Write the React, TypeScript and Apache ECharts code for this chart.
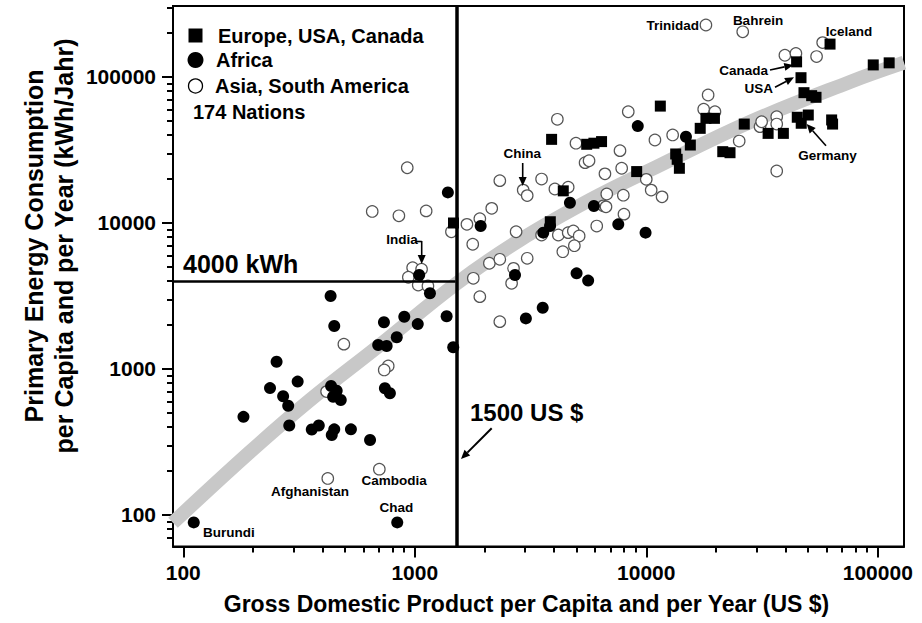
import React, { useEffect, useRef } from "react";
import * as echarts from "echarts";

// ---- data: [GDP per capita (US $), primary energy per capita (kWh/year)] ----
const europeUsaCanada: [number, number][] = [
  [62200, 168000], [95600, 121000], [112000, 125000], [44600, 127000], [46600, 98900],
  [48000, 78100], [51800, 74500], [54100, 72600], [11500, 63200], [18100, 52100],
  [19700, 52100], [17100, 44500], [26500, 47600], [33600, 41100], [39100, 41100],
  [44900, 53000], [50100, 54900], [46700, 48200], [63200, 50800], [63800, 47600],
  [15500, 34200], [13400, 29700], [13600, 27300], [13900, 23700], [21400, 30800],
  [23000, 30300], [9090, 22500], [6410, 36100], [3900, 37400], [5530, 34600],
  [5940, 35200], [4380, 16600], [3850, 10200], [1470, 10000],
];

const africa: [number, number][] = [
  [253, 1120], [237, 740], [312, 820], [270, 650], [284, 560], [182, 470], [287, 410],
  [359, 385], [385, 410], [435, 765], [460, 710], [444, 645], [479, 613], [438, 353],
  [449, 386], [530, 386], [641, 326], [743, 738], [781, 682], [695, 1460], [756, 1437],
  [1466, 1410], [111, 89], [840, 89], [1390, 16200], [1045, 4400], [433, 3160],
  [449, 1970], [1163, 3300], [901, 2280], [736, 2090], [1030, 2030], [1373, 2300],
  [836, 1650], [1926, 9530], [2710, 4400], [3020, 2220], [9190, 46100], [14840, 39000],
  [4680, 13770], [5940, 13070], [3590, 8590], [3840, 9530], [7570, 9790], [9930, 8590],
  [5000, 4520], [5610, 4030], [3570, 2630],
];

const asiaSouthAmerica: [number, number][] = [
  [18100, 227000], [26100, 204000], [57800, 172000], [39700, 141000], [44300, 145000],
  [54400, 138000], [18500, 75300], [8360, 57800], [17700, 60100], [19800, 57800],
  [13000, 40100], [10900, 37000], [7700, 31300], [31000, 45700], [31500, 49400],
  [36600, 53500], [36600, 47600], [25200, 36400], [36600, 22700], [6630, 21700],
  [7830, 23700], [10000, 19900], [6750, 15800], [7960, 15500], [10500, 16800],
  [11700, 15100], [4130, 51300], [4970, 35200], [5440, 25900], [5660, 26700],
  [2330, 19500], [3530, 20000], [2940, 16800], [3060, 15400], [4030, 17100],
  [4600, 17600], [6520, 13100], [2150, 12600], [1910, 10700], [1680, 9790],
  [1440, 8710], [2740, 8710], [3530, 8280], [4170, 8280], [4600, 8590], [4840, 8810],
  [5130, 8150], [4890, 6990], [4360, 6360], [6110, 9530], [8010, 11500], [1780, 7150],
  [2100, 5300], [2330, 5640], [3060, 5730], [2670, 4890], [2620, 3860], [1790, 4180],
  [1910, 3130], [2330, 2110], [928, 23900], [655, 12000], [854, 11200], [1120, 12100],
  [979, 4940], [1070, 4820], [938, 4250], [1035, 3760], [1140, 3700], [494, 1480],
  [768, 1050], [738, 985], [416, 700], [421, 178], [703, 206], [6700, 12900],
];

const trendBand: [number, number][] = [
  [90.3, 88.5], [194, 270], [353, 613], [707, 1460], [1522, 3880], [2847, 7648],
  [5715, 14390], [10380, 23070], [28050, 49200], [75860, 92500], [129800, 125300],
];

const xMajorTicks = [100, 1000, 10000, 100000];
const yMajorTicks = [100, 1000, 10000, 100000];
const minorFactors = [2, 3, 4, 5, 6, 7, 8, 9];
const gdpThreshold = 1500;
const energyThreshold = 4000;
const xRange = [90.3, 129800];
const yRange = [60.84, 306400];

const legendItems = ["Europe, USA, Canada", "Africa", "Asia, South America"];
const nationsNote = "174 Nations";

const FONT = "'Liberation Sans', Arial, Helvetica, sans-serif";
const L = Math.log10;
const toLog = (arr: [number, number][]) => arr.map(([x, y]) => [L(x), L(y)]);

function minorTicks(lo: number, hi: number) {
  const out: number[] = [];
  for (let d = 0; d <= 6; d++) {
    for (const k of minorFactors) {
      const v = k * Math.pow(10, d);
      if (v > lo && v < hi) out.push(L(v));
    }
  }
  return out;
}

function arrow(x1: number, y1: number, x2: number, y2: number, w = 1.6, head = 9, half = 4) {
  const dx = x2 - x1, dy = y2 - y1;
  const len = Math.hypot(dx, dy);
  const ux = dx / len, uy = dy / len;
  const bx = x2 - ux * head, by = y2 - uy * head;
  return [
    { type: "line", z: 100, shape: { x1, y1, x2: bx, y2: by }, style: { stroke: "#000", lineWidth: w } },
    {
      type: "polygon", z: 100,
      shape: { points: [[x2, y2], [bx - uy * half, by + ux * half], [bx + uy * half, by - ux * half]] },
      style: { fill: "#000" },
    },
  ];
}

function txt(text: string, x: number, y: number, size: number, align = "center", rotation = 0) {
  return {
    type: "text", z: 100, x, y, rotation,
    style: {
      text, fill: "#000", fontFamily: FONT, fontWeight: "bold", fontSize: size,
      align, verticalAlign: "middle",
    },
  };
}

export default function App() {
  const ref = useRef<HTMLDivElement>(null);
  useEffect(() => {
    if (!ref.current) return;
    const chart = echarts.init(ref.current, undefined, { renderer: "svg" });
    const axisCommon = {
      type: "value",
      splitLine: { show: false },
    };
    const labelStyle = { fontSize: 21, fontWeight: "bold", color: "#000", fontFamily: FONT };
    const fmt = (v: number) => String(Math.round(Math.pow(10, v)));
    const graphic: any[] = [
      // legend
      { type: "rect", z: 100, shape: { x: 188.5, y: 28.5, width: 14, height: 14 }, style: { fill: "#000" } },
      { type: "circle", z: 100, shape: { cx: 195.5, cy: 60, r: 8 }, style: { fill: "#000" } },
      { type: "circle", z: 100, shape: { cx: 195.5, cy: 86, r: 7 }, style: { fill: "#fff", stroke: "#000", lineWidth: 1.3 } },
      txt(legendItems[0], 218, 36, 20, "left"),
      txt(legendItems[1], 216, 60, 20, "left"),
      txt(legendItems[2], 215, 86, 20, "left"),
      txt(nationsNote, 193, 112, 20, "left"),
      // threshold labels
      txt("4000 kWh", 183, 264, 25, "left"),
      txt("1500 US $", 470, 412, 24, "left"),
      // nation labels
      txt("Trinidad", 699, 25, 13.5, "right"),
      txt("Bahrein", 758, 20, 13.5),
      txt("Iceland", 849, 31, 13.5),
      txt("Canada", 768, 70, 13.5, "right"),
      txt("USA", 773, 88, 13.5, "right"),
      txt("Germany", 827.5, 155, 13.5),
      txt("China", 522.3, 153.3, 13.5),
      txt("India", 402, 239, 13.5),
      txt("Burundi", 203, 532, 13.5, "left"),
      txt("Chad", 396.3, 507, 13.5),
      txt("Afghanistan", 310, 491, 13.5),
      txt("Cambodia", 394.2, 480, 13.5),
      // arrows
      ...arrow(770, 70, 793.3, 65),
      ...arrow(775, 87.3, 794, 77.3),
      ...arrow(826, 145.7, 806.7, 124),
      ...arrow(522.7, 163, 522.7, 186),
      { type: "line", z: 100, shape: { x1: 416, y1: 241.5, x2: 421.7, y2: 241.5 }, style: { stroke: "#000", lineWidth: 1.6 } },
      ...arrow(421.7, 241, 421.7, 264),
      ...arrow(491.7, 428.3, 461, 459, 2),
      // axis titles
      txt("Gross Domestic Product per Capita and per Year (US $)", 526.5, 604, 23),
      txt("Primary Energy Consumption", 34, 246, 25, "center", Math.PI / 2),
      txt("per Capita and per Year (kWh/Jahr)", 64, 246, 25, "center", Math.PI / 2),
    ];

    chart.setOption({
      animation: false,
      backgroundColor: "#fff",
      grid: {
        left: 173, top: 6, width: 731, height: 540.5,
        show: true, borderColor: "#000", borderWidth: 2, backgroundColor: "transparent",
      },
      xAxis: [
        {
          ...axisCommon, min: L(xRange[0]), max: L(xRange[1]), position: "bottom",
          axisLine: { show: true, onZero: false, lineStyle: { color: "#000", width: 2 } },
          axisTick: { show: true, customValues: xMajorTicks.map(L), length: 11, lineStyle: { color: "#000", width: 2 } },
          axisLabel: { ...labelStyle, customValues: xMajorTicks.map(L), formatter: fmt, margin: 15 },
        },
        {
          ...axisCommon, min: L(xRange[0]), max: L(xRange[1]), position: "bottom",
          axisLine: { show: false },
          axisLabel: { show: false },
          axisTick: { show: true, customValues: minorTicks(xRange[0], xRange[1]), length: 6, lineStyle: { color: "#000", width: 2 } },
        },
      ],
      yAxis: [
        {
          ...axisCommon, min: L(yRange[0]), max: L(yRange[1]), position: "left",
          axisLine: { show: true, onZero: false, lineStyle: { color: "#000", width: 2 } },
          axisTick: { show: true, customValues: yMajorTicks.map(L), length: 11, lineStyle: { color: "#000", width: 2 } },
          axisLabel: { ...labelStyle, customValues: yMajorTicks.map(L), formatter: fmt, margin: 17 },
        },
        {
          ...axisCommon, min: L(yRange[0]), max: L(yRange[1]), position: "left",
          axisLine: { show: false },
          axisLabel: { show: false },
          axisTick: { show: true, customValues: minorTicks(yRange[0], yRange[1]), length: 6, lineStyle: { color: "#000", width: 2 } },
        },
      ],
      series: [
        {
          type: "line", name: "trend", data: toLog(trendBand), smooth: 0.4, symbol: "none",
          lineStyle: { color: "#c8c8c8", width: 14, opacity: 1 }, clip: true, silent: true, z: 1,
          xAxisIndex: 0, yAxisIndex: 0,
          markLine: {
            silent: true, symbol: ["none", "none"], animation: false,
            label: { show: false },
            lineStyle: { color: "#000", type: "solid" },
            data: [
              { xAxis: L(gdpThreshold), lineStyle: { width: 3.5, color: "#000", type: "solid" } },
              [
                { coord: [L(xRange[0]), L(energyThreshold)], lineStyle: { width: 2.5, color: "#000", type: "solid" } },
                { coord: [L(gdpThreshold), L(energyThreshold)] },
              ],
            ],
          },
        },
        {
          type: "scatter", name: legendItems[2], data: toLog(asiaSouthAmerica), symbol: "circle", symbolSize: 11.5,
          itemStyle: { color: "#fff", borderColor: "#555", borderWidth: 1.2, opacity: 1 }, z: 3,
          xAxisIndex: 0, yAxisIndex: 0,
        },
        {
          type: "scatter", name: legendItems[1], data: toLog(africa), symbol: "circle", symbolSize: 12,
          itemStyle: { color: "#000", opacity: 1 }, z: 4, xAxisIndex: 0, yAxisIndex: 0,
        },
        {
          type: "scatter", name: legendItems[0], data: toLog(europeUsaCanada), symbol: "rect", symbolSize: 11,
          itemStyle: { color: "#000", opacity: 1 }, z: 5, xAxisIndex: 0, yAxisIndex: 0,
        },
      ],
      graphic,
    });
    return () => chart.dispose();
  }, []);
  return (
    <div
      ref={ref}
      style={{ position: "fixed", left: 0, top: 0, width: 922, height: 623, background: "#fff" }}
    />
  );
}
